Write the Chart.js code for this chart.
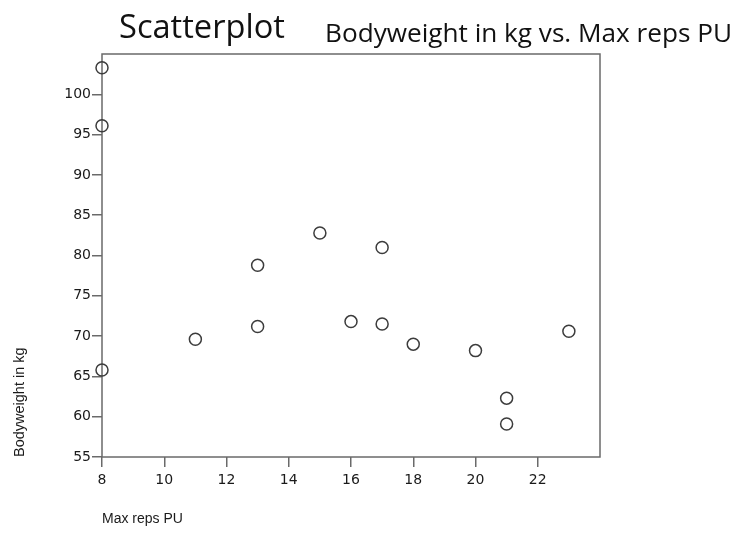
<!DOCTYPE html>
<html>
<head>
<meta charset="utf-8">
<title>Scatterplot</title>
<script src="https://cdn.jsdelivr.net/npm/chart.js@4.4.1/dist/chart.umd.min.js"></script>
<style>
  html, body { margin: 0; padding: 0; background: #ffffff; }
  #wrap { position: relative; width: 736px; height: 555px; }
</style>
</head>
<body>
<div id="wrap"><canvas id="chart"></canvas></div>
<script>
// Max push-up reps (x) against bodyweight in kg (y)
const maxReps    = [8, 8, 8, 11, 13, 13, 15, 16, 17, 17, 18, 20, 21, 21, 23];
const bodyweight = [103.3, 96.1, 65.8, 69.6, 78.8, 71.2, 82.8, 71.8, 81.0, 71.5, 69.0, 68.2, 62.3, 59.1, 70.6];

// Labelled tick values on each axis
const xTickValues = [8, 10, 12, 14, 16, 18, 20, 22];
const yTickValues = [55, 60, 65, 70, 75, 80, 85, 90, 95, 100];

// Titles and axis labels
const mainTitle = 'Scatterplot';
const subTitle  = 'Bodyweight in kg vs. Max reps PU';
const xLabel    = 'Max reps PU';
const yLabel    = 'Bodyweight in kg';

const points = maxReps.map((x, i) => ({ x: x, y: bodyweight[i] }));

// Draws a text line left-aligned at (x, baseline), sized to span the given width
function fitText(ctx, text, x, baseline, width, family, color) {
  ctx.font = '100px ' + family;
  const size = 100 * width / ctx.measureText(text).width;
  ctx.font = size.toFixed(2) + 'px ' + family;
  ctx.fillStyle = color;
  ctx.textAlign = 'left';
  ctx.textBaseline = 'alphabetic';
  ctx.fillText(text, x, baseline);
}

// Frame around the plotting area
const frame = {
  id: 'frame',
  beforeDatasetsDraw(chart) {
    const { ctx, chartArea: a } = chart;
    ctx.save();
    ctx.strokeStyle = '#6a6a6a';
    ctx.lineWidth = 1.5;
    ctx.strokeRect(a.left, a.top, a.right - a.left, a.bottom - a.top);
    ctx.restore();
  }
};

// Heading texts above the frame
const headings = {
  id: 'headings',
  afterDraw(chart) {
    const ctx = chart.ctx;
    ctx.save();
    fitText(ctx, mainTitle, 119, 38, 166, '"Open Sans", sans-serif', '#111111');
    fitText(ctx, subTitle, 325, 41.5, 407, '"Open Sans", sans-serif', '#111111');
    ctx.restore();
  }
};

const tickFont = { family: '"DejaVu Sans", sans-serif', size: 14 };

new Chart(document.getElementById('chart'), {
  type: 'scatter',
  data: {
    datasets: [{
      data: points,
      clip: false,
      pointStyle: 'circle',
      pointRadius: 6,
      pointHoverRadius: 6,
      pointBorderWidth: 1.5,
      pointBorderColor: '#3c3c3c',
      pointBackgroundColor: 'rgba(0,0,0,0)'
    }]
  },
  options: {
    responsive: true,
    maintainAspectRatio: false,
    animation: false,
    events: [],
    layout: { padding: { left: 0, top: 54, right: 136, bottom: 0 } },
    plugins: {
      legend: { display: false },
      tooltip: { enabled: false },
      title: { display: false }
    },
    scales: {
      x: {
        type: 'linear',
        min: 8,
        max: 24,
        afterBuildTicks: (scale) => { scale.ticks = xTickValues.map(v => ({ value: v })); },
        afterFit: (scale) => { scale.height = 98; },
        border: { display: false },
        grid: {
          drawOnChartArea: false,
          drawTicks: true,
          tickLength: 10,
          color: '#6a6a6a',
          lineWidth: 1.5
        },
        ticks: {
          font: tickFont,
          color: '#1a1a1a',
          padding: 5,
          maxRotation: 0,
          autoSkip: false
        },
        title: {
          display: true,
          text: xLabel,
          align: 'start',
          color: '#1a1a1a',
          font: { family: '"Liberation Sans", Arial, sans-serif', size: 14 },
          padding: { top: 0, bottom: 27 }
        }
      },
      y: {
        type: 'linear',
        min: 55,
        max: 105,
        afterBuildTicks: (scale) => { scale.ticks = yTickValues.map(v => ({ value: v })); },
        afterFit: (scale) => { scale.width = 102; },
        border: { display: false },
        grid: {
          drawOnChartArea: false,
          drawTicks: true,
          tickLength: 10,
          color: '#6a6a6a',
          lineWidth: 1.5
        },
        ticks: {
          font: tickFont,
          color: '#1a1a1a',
          padding: 1,
          autoSkip: false
        },
        title: {
          display: true,
          text: yLabel,
          align: 'start',
          color: '#1a1a1a',
          font: { family: '"Liberation Sans", Arial, sans-serif', size: 14.5 },
          padding: { top: 11, bottom: 0 }
        }
      }
    }
  },
  plugins: [frame, headings]
});
</script>
</body>
</html>
